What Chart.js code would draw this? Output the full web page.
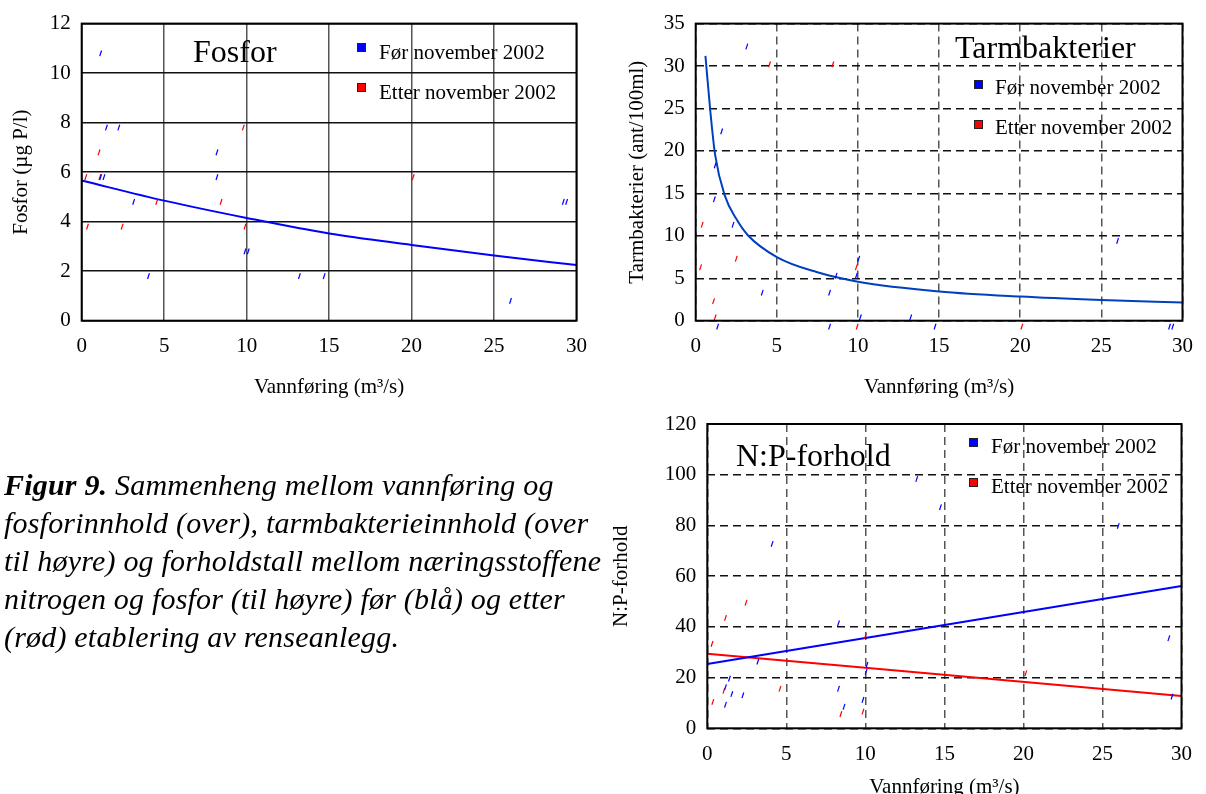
<!DOCTYPE html>
<html lang="no">
<head>
<meta charset="utf-8">
<title>Figur 9</title>
<script src="https://cdn.jsdelivr.net/npm/chart.js@4.4.1/dist/chart.umd.min.js"></script>
<style>
  html, body { margin: 0; padding: 0; background: #fff; overflow: hidden; }
  body { width: 1206px; height: 794px; position: relative; font-family: 'Liberation Serif', 'Times New Roman', serif; color: #000; }
  canvas { position: absolute; }
  .tekst { position: absolute; white-space: nowrap; line-height: 1; }
  .tittel { font-size: 32px; }
  .forklaring { font-size: 21px; }
  .rute { position: absolute; width: 7px; height: 7px; border: 1px solid #222; }
  #figurtekst { position: absolute; left: 4px; top: 466px; font-size: 30px; letter-spacing: 0.2px; line-height: 38px; font-style: italic; white-space: nowrap; }
</style>
</head>
<body>

<canvas id="fosfor" width="600" height="400" style="left:0;top:0"></canvas>
<canvas id="tarm" width="606" height="400" style="left:600px;top:0"></canvas>
<canvas id="np" width="606" height="400" style="left:600px;top:400px"></canvas>

<!-- titler og forklaringer inne i figurene -->
<div class="tekst tittel" style="left:193px;top:35px">Fosfor</div>
<div class="rute" style="left:357px;top:43px;background:#0000ff"></div>
<div class="tekst forklaring" style="left:379px;top:42px">Før november 2002</div>
<div class="rute" style="left:357px;top:83px;background:#ff0000"></div>
<div class="tekst forklaring" style="left:379px;top:82px">Etter november 2002</div>

<div class="tekst tittel" style="left:955px;top:31px">Tarmbakterier</div>
<div class="rute" style="left:974px;top:80px;background:#0000ff"></div>
<div class="tekst forklaring" style="left:995px;top:77px">Før november 2002</div>
<div class="rute" style="left:974px;top:120px;background:#ff0000"></div>
<div class="tekst forklaring" style="left:995px;top:117px">Etter november 2002</div>

<div class="tekst tittel" style="left:736px;top:439px">N:P-forhold</div>
<div class="rute" style="left:969px;top:438px;background:#0000ff"></div>
<div class="tekst forklaring" style="left:991px;top:436px">Før november 2002</div>
<div class="rute" style="left:969px;top:478px;background:#ff0000"></div>
<div class="tekst forklaring" style="left:991px;top:476px">Etter november 2002</div>

<div id="figurtekst"><b>Figur 9.</b> Sammenheng mellom vannføring og<br>fosforinnhold (over), tarmbakterieinnhold (over<br>til høyre) og forholdstall mellom næringsstoffene<br>nitrogen og fosfor (til høyre) før (blå) og etter<br>(rød) etablering av renseanlegg.</div>

<script>
// ===== DATA =====
const vannforingTicks = [0, 5, 10, 15, 20, 25, 30];

// Fosfor (µg P/l)
const fosforTicks = [0, 2, 4, 6, 8, 10, 12];
const fosforForX = [1.15, 1.5, 2.25, 8.2, 1.15, 1.35, 8.2, 3.15, 9.9, 10.1, 4.05, 13.2, 14.7, 29.2, 29.4, 26.0];
const fosforForY = [10.8, 7.8, 7.8, 6.8, 5.8, 5.8, 5.8, 4.8, 2.8, 2.8, 1.8, 1.8, 1.8, 4.8, 4.8, 0.8];
const fosforEtterX = [9.8, 1.05, 0.25, 1.1, 4.55, 8.45, 0.35, 2.45, 9.9, 20.1];
const fosforEtterY = [7.8, 6.8, 5.8, 5.8, 4.8, 4.8, 3.8, 3.8, 3.8, 5.8];
const fosforTrendX = [0, 5, 10, 15, 20, 25, 30];
const fosforTrendY = [5.66, 4.85, 4.15, 3.52, 3.06, 2.63, 2.25];

// Tarmbakterier (ant/100ml)
const tarmTicks = [0, 5, 10, 15, 20, 25, 30, 35];
const tarmForX = [3.15, 1.6, 1.2, 1.15, 2.3, 10.05, 8.65, 9.9, 4.1, 8.25, 10.15, 13.25, 26.0, 1.35, 8.25, 14.75, 29.2, 29.4];
const tarmForY = [32.3, 22.3, 18.3, 14.3, 11.3, 7.3, 5.3, 5.3, 3.3, 3.3, 0.4, 0.4, 9.4, -0.7, -0.7, -0.7, -0.7, -0.7];
const tarmEtterX = [4.55, 8.45, 0.4, 2.5, 0.3, 9.9, 1.1, 1.2, 9.95, 20.1];
const tarmEtterY = [30.2, 30.2, 11.3, 7.3, 6.3, 6.3, 2.3, 0.4, -0.7, -0.7];
const tarmTrendX = [0.6, 0.9, 1.2, 1.8, 2.5, 3.2, 5, 7.5, 10, 15, 20, 25, 30];
const tarmTrendY = [31.2, 24.7, 19.5, 14.7, 12.0, 10.1, 7.5, 5.7, 4.6, 3.45, 2.85, 2.45, 2.15];

// N:P-forhold
const npTicks = [0, 20, 40, 60, 80, 100, 120];
const npForX = [13.25, 14.75, 4.1, 8.3, 3.2, 10.1, 10.05, 1.4, 1.15, 1.55, 2.25, 8.3, 1.15, 8.65, 9.85, 26.0, 29.2, 29.4];
const npForY = [98.3, 87.2, 72.7, 41.4, 26.3, 25.0, 22.3, 19.6, 16.2, 13.5, 13.0, 15.6, 9.3, 8.5, 11.2, 79.8, 35.5, 12.5];
const npEtterX = [2.45, 1.15, 0.3, 10.0, 1.05, 4.6, 0.35, 8.45, 9.85, 20.15];
const npEtterY = [49.5, 43.5, 33.3, 36.4, 14.8, 15.6, 10.4, 5.6, 6.6, 21.7];
const npTrendX = [0, 30];
const npForTrendY = [25.4, 56.1];
const npEtterTrendY = [29.4, 12.7];

// ===== HJELPERE =====
Chart.defaults.font.family = "'Liberation Serif', 'Times New Roman', serif";
Chart.defaults.font.size = 21;
Chart.defaults.color = '#000';

const BLA = '#0000ff';
const ROD = '#ff0000';

function punkter(xs, ys) {
  return xs.map((x, i) => ({ x: x, y: ys[i] }));
}

// små skrå streker som punktmerker
function merker(xs, ys, farge) {
  return {
    data: punkter(xs, ys),
    showLine: false,
    pointStyle: 'line',
    pointRadius: 3,
    pointHoverRadius: 9, // gir plass til merker like under aksen
    pointRotation: -72,
    pointBorderWidth: 1.2,
    pointBorderColor: farge,
    borderColor: farge,
    clip: false
  };
}

function kurve(xs, ys, farge) {
  return {
    type: 'line',
    data: punkter(xs, ys),
    borderColor: farge,
    borderWidth: 2,
    pointRadius: 0,
    fill: false,
    cubicInterpolationMode: 'monotone'
  };
}

// ramme rundt plottet
const ramme = {
  id: 'ramme',
  afterDraw(chart) {
    const a = chart.chartArea;
    const ctx = chart.ctx;
    ctx.save();
    ctx.strokeStyle = '#000';
    ctx.lineWidth = 2;
    ctx.strokeRect(a.left, a.top, a.right - a.left, a.bottom - a.top);
    ctx.restore();
  }
};

function lagFigur(id, o) {
  return new Chart(document.getElementById(id), {
    type: 'scatter',
    data: { datasets: o.datasett },
    options: {
      responsive: false,
      animation: false,
      layout: { padding: { top: o.topp, right: o.hoyre, left: 0, bottom: 0 } },
      plugins: { legend: { display: false }, tooltip: { enabled: false } },
      scales: {
        x: {
          type: 'linear', min: 0, max: 30,
          afterBuildTicks: s => { s.ticks = vannforingTicks.map(v => ({ value: v })); },
          afterFit: s => { s.height = o.xHoyde; },
          ticks: { padding: o.xPad, maxRotation: 0 },
          grid: { color: '#555', lineWidth: 1.5, drawTicks: false },
          border: { display: false, dash: o.stiplet ? [8, 5] : [] },
          title: { display: true, text: 'Vannføring (m³/s)', padding: { top: o.xTittelPad, bottom: 0 } }
        },
        y: {
          type: 'linear', min: o.yTicks[0], max: o.yTicks[o.yTicks.length - 1],
          afterBuildTicks: s => { s.ticks = o.yTicks.map(v => ({ value: v })); },
          afterFit: s => { s.width = o.yBredde; },
          ticks: { padding: 11 },
          grid: { color: '#111', lineWidth: 1.5, drawTicks: false },
          border: { display: false, dash: o.stiplet ? [8, 5] : [] },
          title: { display: true, text: o.yTittel, padding: { top: o.yTittelPad, bottom: 0 } }
        }
      }
    },
    plugins: [ramme]
  });
}

// ===== FIGURER =====
lagFigur('fosfor', {
  topp: 17.3, hoyre: 20, yBredde: 81.7, xHoyde: 79.3, xPad: 13, xTittelPad: 9.4, yTittelPad: 9,
  yTicks: fosforTicks, yTittel: 'Fosfor (µg P/l)', stiplet: false,
  datasett: [
    merker(fosforForX, fosforForY, BLA),
    merker(fosforEtterX, fosforEtterY, ROD),
    kurve(fosforTrendX, fosforTrendY, BLA)
  ]
});

lagFigur('tarm', {
  topp: 17.3, hoyre: 12.3, yBredde: 95.7, xHoyde: 79.3, xPad: 13, xTittelPad: 10.7, yTittelPad: 25,
  yTicks: tarmTicks, yTittel: 'Tarmbakterier (ant/100ml)', stiplet: true,
  datasett: [
    merker(tarmForX, tarmForY, BLA),
    merker(tarmEtterX, tarmEtterY, ROD),
    kurve(tarmTrendX, tarmTrendY, '#0040c0')
  ]
});

lagFigur('np', {
  topp: 24, hoyre: 10.7, yBredde: 107.3, xHoyde: 71.7, xPad: 14, xTittelPad: 3.6, yTittelPad: 8.4,
  yTicks: npTicks, yTittel: 'N:P-forhold', stiplet: true,
  datasett: [
    merker(npForX, npForY, BLA),
    merker(npEtterX, npEtterY, ROD),
    kurve(npTrendX, npForTrendY, BLA),
    kurve(npTrendX, npEtterTrendY, ROD)
  ]
});
</script>
</body>
</html>
